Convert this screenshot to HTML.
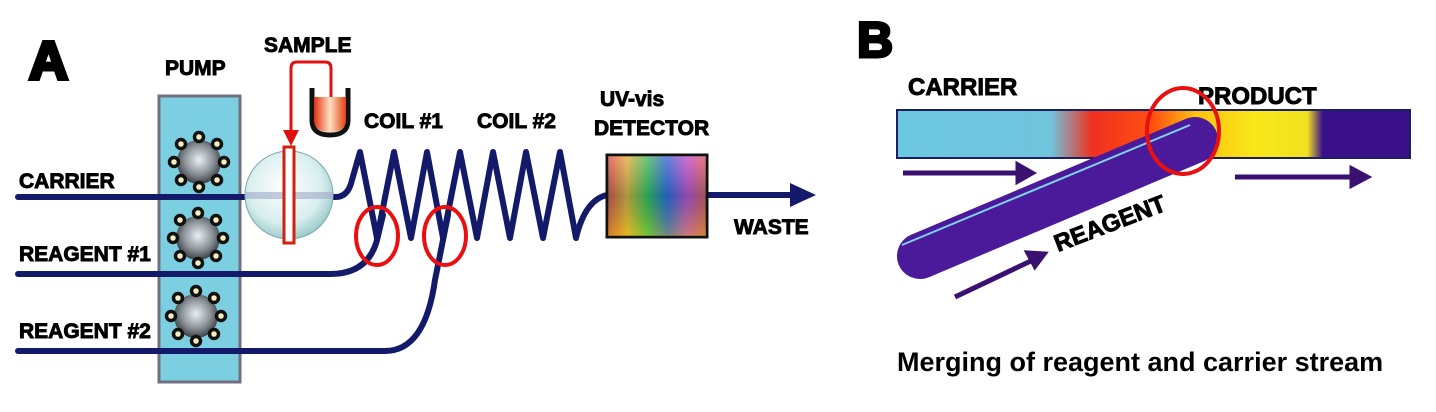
<!DOCTYPE html><html><head><style>body{margin:0;background:#fff}svg{display:block}text{font-family:"Liberation Sans",sans-serif;font-weight:bold}.l{font-size:21px;stroke:#000;stroke-width:0.9px}</style></head><body>
<svg width="1436" height="412" viewBox="0 0 1436 412" xmlns="http://www.w3.org/2000/svg">
<defs>
<radialGradient id="rot" cx="50%" cy="45%" r="55%"><stop offset="0" stop-color="#e8f0f4"/><stop offset="0.6" stop-color="#8a9298"/><stop offset="1" stop-color="#3a3e42"/></radialGradient>
<radialGradient id="valve" cx="45%" cy="40%" r="60%"><stop offset="0" stop-color="#ffffff"/><stop offset="0.7" stop-color="#d8eeee"/><stop offset="1" stop-color="#9ecccc"/></radialGradient>
<linearGradient id="rb1" x1="0" x2="1"><stop offset="0" stop-color="#e03030"/><stop offset="0.2" stop-color="#e8a020"/><stop offset="0.4" stop-color="#30b040"/><stop offset="0.6" stop-color="#2050d0"/><stop offset="0.8" stop-color="#c030c0"/><stop offset="1" stop-color="#e04040"/></linearGradient>
<linearGradient id="rb2" x1="0" y1="0" x2="0" y2="1"><stop offset="0" stop-color="#fff" stop-opacity="0.3"/><stop offset="0.5" stop-color="#208080" stop-opacity="0.3"/><stop offset="1" stop-color="#e0e020" stop-opacity="0.4"/></linearGradient>
<linearGradient id="cup" x1="0" x2="1"><stop offset="0" stop-color="#e03010"/><stop offset="0.5" stop-color="#ffe0c0"/><stop offset="1" stop-color="#e04010"/></linearGradient>
<linearGradient id="tube" x1="0" x2="1"><stop offset="0" stop-color="#6cc8e0"/><stop offset="0.3" stop-color="#70c4dc"/><stop offset="0.38" stop-color="#f03020"/><stop offset="0.5" stop-color="#ff5010"/><stop offset="0.58" stop-color="#ffc010"/><stop offset="0.7" stop-color="#f8e818"/><stop offset="0.8" stop-color="#f0e020"/><stop offset="0.83" stop-color="#3a108a"/><stop offset="1" stop-color="#3a108a"/></linearGradient>
<g id="r">
<circle cx="0" cy="0" r="22" fill="url(#rot)"/>
<g fill="#f4eec0" stroke="#111" stroke-width="3.5">
<circle cx="0" cy="-25" r="4.5"/><circle cx="18" cy="-18" r="4.5"/><circle cx="25" cy="0" r="4.5"/><circle cx="18" cy="18" r="4.5"/><circle cx="0" cy="25" r="4.5"/><circle cx="-18" cy="18" r="4.5"/><circle cx="-25" cy="0" r="4.5"/><circle cx="-18" cy="-18" r="4.5"/></g></g>
</defs>
<text x="29" y="79" font-size="54" stroke="#000" stroke-width="4">A</text>
<text class="l" x="165" y="75">PUMP</text>
<rect x="159" y="96" width="81" height="286" fill="#7ccfe0" stroke="#707080" stroke-width="3"/>
<use href="#r" transform="translate(199,162)"/>
<use href="#r" transform="translate(198,238)"/>
<use href="#r" transform="translate(196,316)"/>
<text class="l" x="19" y="188">CARRIER</text>
<text class="l" x="19" y="261">REAGENT #1</text>
<text class="l" x="19" y="338">REAGENT #2</text>
<g fill="none" stroke="#141a6a" stroke-width="6" stroke-linecap="round" stroke-linejoin="round">
<path d="M18 197 H245"/>
<path d="M18 274 H330 Q370 274 378 236 L383 215"/>
<path d="M18 351 H385 Q425 351 435 280 L448 215"/>
<path d="M334 197 Q348 198 352 180 L360 152 L377 238 L394 152 L411 238 L427 152 L443 238 L460 152 L477 238 L493 152 L510 238 L526 152 L543 238 L560 152 L576 238 Q585 200 607 195"/>
<path d="M707 195 H795"/>
</g>
<path d="M790 183 L816 195 L790 207 Z" fill="#141a6a"/>
<circle cx="289" cy="195" r="44" fill="url(#valve)" stroke="#7aa" stroke-width="1"/>
<rect x="245" y="192" width="88" height="7" fill="#a0a8c8" opacity="0.6"/>
<rect x="284" y="147" width="10" height="96" fill="#fff" stroke="#d02010" stroke-width="3"/>
<path d="M291 140 V68 Q291 62 297 62 H325 Q331 62 331 68 V97" fill="none" stroke="#e01010" stroke-width="3"/>
<path d="M283 130 L291 146 L299 130 Z" fill="#e01010"/>
<path d="M312 88 V120 Q312 135 330 135 Q348 135 348 120 V88" fill="none" stroke="#111" stroke-width="5"/>
<path d="M314 97 H346 V120 Q346 132 330 132 Q314 132 314 120 Z" fill="url(#cup)"/>
<text class="l" x="264" y="52">SAMPLE</text>
<text class="l" x="364" y="128">COIL #1</text>
<text class="l" x="477" y="128">COIL #2</text>
<text class="l" x="600" y="106">UV-vis</text>
<text class="l" x="594" y="135">DETECTOR</text>
<text class="l" x="734" y="234">WASTE</text>
<rect x="607" y="155" width="100" height="82" fill="url(#rb1)" stroke="#111" stroke-width="3"/>
<rect x="608" y="156" width="98" height="80" fill="url(#rb2)"/>
<g fill="none" stroke="#e81010" stroke-width="4"><ellipse cx="377" cy="236" rx="21" ry="29"/><ellipse cx="445" cy="236" rx="21" ry="29"/></g>
<text x="857" y="57" font-size="50" stroke="#000" stroke-width="3">B</text>
<text x="908" y="95" font-size="24" stroke="#000" stroke-width="0.9">CARRIER</text>
<text x="1198" y="104" font-size="24" stroke="#000" stroke-width="0.9">PRODUCT</text>
<rect x="897" y="110" width="513" height="48" fill="url(#tube)"/>
<rect x="897" y="110" width="513" height="48" fill="none" stroke="#1a2060" stroke-width="2"/>
<path d="M920 256 L1195 140" stroke="#4a1a9a" stroke-width="46" stroke-linecap="round"/>
<path d="M902 245 L1190 125" stroke="#80d0f0" stroke-width="2"/>
<g stroke="#3a1070" stroke-width="5" fill="#3a1070">
<path d="M903 173 H1020"/><path d="M1018 165 L1032 173 L1018 181Z"/>
<path d="M1235 177 H1355"/><path d="M1352 169 L1367 177 L1352 185Z"/>
<path d="M955 297 L1035 259"/><path d="M1028 253 L1044 254 L1035 266Z"/>
</g>
<ellipse cx="1183" cy="131" rx="36" ry="43" fill="none" stroke="#e81010" stroke-width="4"/>
<text font-size="24" stroke="#000" stroke-width="0.9" transform="translate(1058,252) rotate(-21)">REAGENT</text>
<text x="897" y="371" font-size="27">Merging of reagent and carrier stream</text>
</svg></body></html>
